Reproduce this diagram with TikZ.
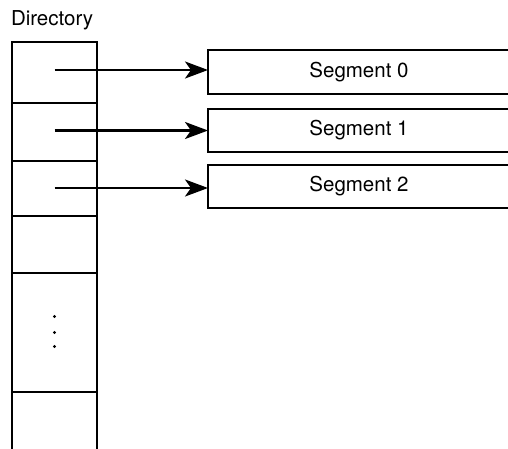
\documentclass[tikz,border=0pt]{standalone}
\usepackage{fontspec}
\setmainfont{TeX Gyre Heros}
\usetikzlibrary{arrows.meta}
\begin{document}
\begin{tikzpicture}[x=1pt,y=-1pt,
  line width=2pt,
  cell/.style={draw, minimum width=85pt, inner sep=0pt, outer sep=0pt},
  segbox/.style={draw, minimum width=302pt, minimum height=44pt, inner sep=0pt, outer sep=0pt, anchor=north west, font=\fontsize{20.5}{24}\selectfont},
  ptr/.style={-{Stealth[length=23pt,width=17pt,inset=6pt]}, line width=2.5pt},
  lbl/.style={font=\fontsize{20.5}{24}\selectfont, inner sep=0pt, anchor=base west}]
\useasboundingbox (0,0) rectangle (508,448);
\clip (0,0) rectangle (508,448);
\node[lbl] (title) at (10,25) {Directory};
% directory cells
\node[cell, minimum height=61pt, anchor=north west] (c0) at (12,42) {};
\node[cell, minimum height=58pt, anchor=north west] (c1) at (c0.south west) {};
\node[cell, minimum height=55pt, anchor=north west] (c2) at (c1.south west) {};
\node[cell, minimum height=57pt, anchor=north west] (c3) at (c2.south west) {};
\node[cell, minimum height=119pt, anchor=north west] (c4) at (c3.south west) {};
\node[cell, minimum height=70pt, anchor=north west] (c5) at (c4.south west) {};
% ellipsis dots
\fill (c4.center) ++(0,-16) circle (1.6pt);
\fill (c4.center) circle (1.6pt);
\fill (c4.center) ++(0,14) circle (1.6pt);
% segments
\node[segbox] (s0) at (208,50) {Segment 0};
\node[segbox, minimum height=43pt] (s1) at (208,109) {Segment 1};
\node[segbox, minimum height=43pt] (s2) at (208,165) {Segment 2};
% pointers
\draw[ptr] (c0.center |- s0.west) ++(0,-2) -- ([yshift=2pt]s0.west);
\draw[ptr] (c1.center |- s1.west) -- (s1.west);
\draw[ptr] (c2.center |- s2.west) ++(0,1.5) -- ([yshift=-1.5pt]s2.west);
\end{tikzpicture}
\end{document}
